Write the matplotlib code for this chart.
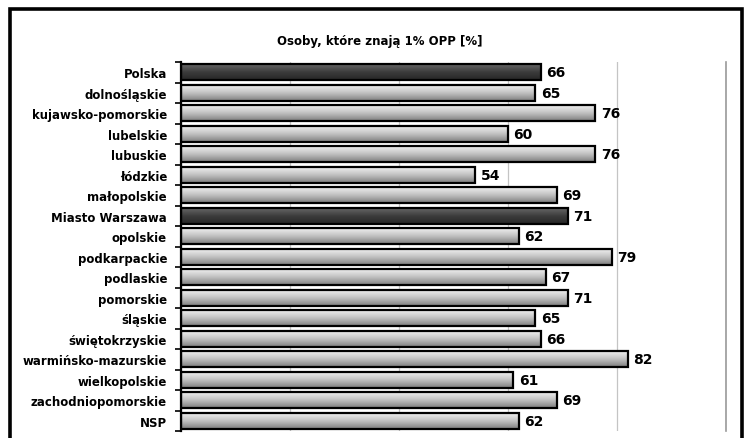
import numpy as np
import matplotlib
matplotlib.use("Agg")
import matplotlib.pyplot as plt
from matplotlib.patches import Rectangle
from matplotlib.colors import LinearSegmentedColormap

title = "Osoby, które znają 1% OPP [%]"
regions = [
    "Polska", "dolnośląskie", "kujawsko-pomorskie", "lubelskie", "lubuskie",
    "łódzkie", "małopolskie", "Miasto Warszawa", "opolskie", "podkarpackie",
    "podlaskie", "pomorskie", "śląskie", "świętokrzyskie",
    "warmińsko-mazurskie", "wielkopolskie", "zachodniopomorskie", "NSP",
]
values = [66, 65, 76, 60, 76, 54, 69, 71, 62, 79, 67, 71, 65, 66, 82, 61, 69, 62]
highlighted = ["Polska", "Miasto Warszawa"]
x_ticks = [0, 20, 40, 60, 80, 100]

fig = plt.figure(figsize=(7.46, 4.39), dpi=100)
fig.patch.set_facecolor("white")

# outer frame
fig.add_artist(Rectangle((10 / 746, -0.05), 732 / 746, 1 - 10 / 439 + 0.05,
                         transform=fig.transFigure, fill=False,
                         edgecolor="black", linewidth=2.6))

ax = fig.add_axes([181 / 746, 1 - 432 / 439, (726 - 181) / 746, (432 - 63) / 439])

light_cmap = LinearSegmentedColormap.from_list("light", ["#f0f0f0", "#c0c0c0", "#7e7e7e"])
dark_cmap = LinearSegmentedColormap.from_list("dark", ["#666666", "#3c3c3c", "#262626"])

n = len(regions)
ypos = np.arange(n)
h = 0.78
grad = np.linspace(0, 1, 64).reshape(-1, 1)

bars = ax.barh(ypos, values, height=h, facecolor="none", edgecolor="black",
               linewidth=1.6, zorder=3)
for bar, name in zip(bars, regions):
    x0, y0 = bar.get_x(), bar.get_y()
    w, hh = bar.get_width(), bar.get_height()
    cmap = dark_cmap if name in highlighted else light_cmap
    im = ax.imshow(grad, cmap=cmap, aspect="auto", interpolation="bicubic",
                   extent=[x0, x0 + w, y0 + hh, y0], zorder=2)
    im.set_clip_path(bar)

for y, v in zip(ypos, values):
    ax.text(v + 1.0, y, f"{v}", va="center", ha="left", fontsize=10,
            fontweight="bold", color="black", zorder=4)

ax.set_xlim(0, 100)
ax.set_ylim(n - 0.5, -0.5)
ax.set_xticks(x_ticks)
ax.tick_params(axis="x", length=0, labelbottom=False)
ax.grid(axis="x", color="#c4c4c4", linewidth=0.9, zorder=0)
ax.set_axisbelow(True)

ax.set_yticks(ypos)
ax.set_yticklabels(regions, fontsize=8.5, fontweight="bold")
ax.tick_params(axis="y", which="major", length=0, pad=10)
ax.set_yticks(np.arange(-0.5, n, 1.0), minor=True)
ax.tick_params(axis="y", which="minor", length=4, width=1.2, direction="out")

for s in ["top", "bottom"]:
    ax.spines[s].set_visible(False)
ax.spines["right"].set_color("#9a9a9a")
ax.spines["right"].set_linewidth(1.2)
ax.spines["left"].set_linewidth(1.6)

fig.text(380 / 746, 1 - 42 / 439, title, ha="center", va="center",
         fontsize=8.5, fontweight="bold")

fig.savefig("out.png", dpi=100)
